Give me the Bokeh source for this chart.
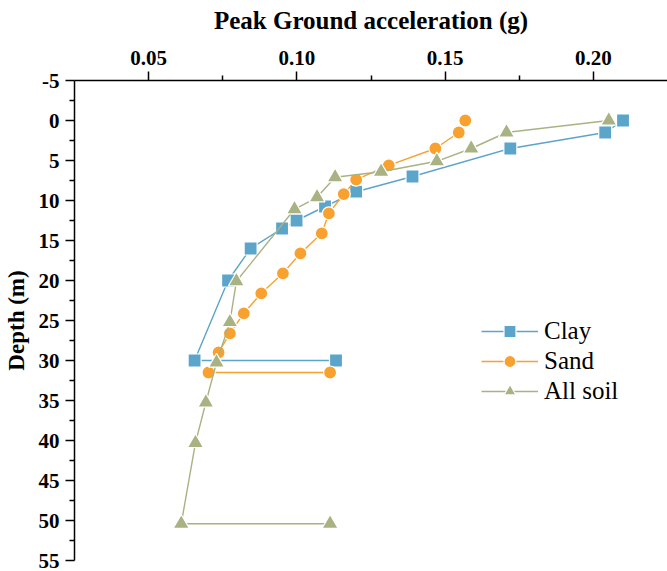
from bokeh.plotting import figure
from bokeh.models import Range1d, FixedTicker, Legend, LegendItem
from bokeh.embed import file_html
from bokeh.resources import INLINE

clay_pga = [0.210, 0.204, 0.172, 0.139, 0.120, 0.1095, 0.0999, 0.095, 0.0844, 0.0768, 0.0655, 0.1132]
clay_depth = [0.0, 1.5, 3.5, 7.0, 8.9, 10.75, 12.5, 13.5, 16.0, 20.0, 30.0, 30.0]

sand_pga = [0.1568, 0.1546, 0.1467, 0.131, 0.120, 0.1158, 0.1108, 0.1084, 0.1012, 0.0953, 0.088, 0.0821, 0.0774, 0.0736, 0.0702, 0.1112]
sand_depth = [0.0, 1.5, 3.5, 5.6, 7.4, 9.2, 11.6, 14.1, 16.6, 19.1, 21.6, 24.1, 26.6, 29.0, 31.5, 31.5]

all_pga = [0.2052, 0.1707, 0.1588, 0.1472, 0.1284, 0.1129, 0.1068, 0.0992, 0.0796, 0.0774, 0.0729, 0.0693, 0.0658, 0.061, 0.1112]
all_depth = [0.0, 1.5, 3.5, 5.1, 6.4, 7.1, 9.6, 11.1, 20.1, 25.2, 30.25, 35.25, 40.3, 50.4, 50.4]

x_ticks = [0.05, 0.10, 0.15, 0.20]
x_tick_labels = {0.05: "0.05", 0.10: "0.10", 0.15: "0.15", 0.20: "0.20"}
y_ticks = [-5, 0, 5, 10, 15, 20, 25, 30, 35, 40, 45, 50, 55]
y_tick_labels = {t: str(t) for t in y_ticks}

CLAY = "#5ba4ca"
SAND = "#f8a12f"
ALL = "#a8b283"
FONT = "Liberation Serif"

p = figure(width=667, height=571, output_backend="svg", toolbar_location=None,
           x_axis_location="above",
           x_range=Range1d(0.025, 0.225), y_range=Range1d(55, -5),
           min_border_left=73, min_border_top=80, min_border_right=0, min_border_bottom=11)
p.outline_line_color = None
p.grid.visible = False
p.background_fill_color = "white"

xa = p.xaxis[0]
xa.ticker = FixedTicker(ticks=x_ticks, minor_ticks=[0.075, 0.125, 0.175])
xa.major_label_overrides = x_tick_labels
xa.axis_label = "Peak Ground acceleration (g)"
ya = p.yaxis[0]
ya.ticker = FixedTicker(ticks=y_ticks, minor_ticks=[-2.5 + 5 * i for i in range(12)])
ya.major_label_overrides = y_tick_labels
ya.axis_label = "Depth (m)"

for ax in (xa, ya):
    ax.axis_line_width = 1.5
    ax.axis_line_color = "black"
    ax.major_tick_line_width = 1.5
    ax.minor_tick_line_width = 1.5
    ax.major_tick_in = 0
    ax.major_tick_out = 9
    ax.minor_tick_in = 0
    ax.minor_tick_out = 5
    ax.major_label_text_font = FONT
    ax.major_label_text_font_style = "bold"
    ax.major_label_text_font_size = "21px"
    ax.major_label_text_color = "black"
    ax.axis_label_text_font = FONT
    ax.axis_label_text_font_style = "bold"
    ax.axis_label_text_color = "black"
xa.axis_label_text_font_size = "25px"
ya.axis_label_text_font_size = "23px"
xa.major_label_standoff = 7
xa.axis_label_standoff = 14
ya.major_label_standoff = 6
ya.axis_label_standoff = 7

def series(xs, ys, color, marker, size):
    l = p.line(xs, ys, line_color=color, line_width=1.4)
    s = p.scatter(xs, ys, marker=marker, size=size, fill_color=color, line_color="white", line_width=1.2)
    return [l, s]

r_clay = series(clay_pga, clay_depth, CLAY, "square", 13)
r_sand = series(sand_pga, sand_depth, SAND, "circle", 13)
r_all = series(all_pga, all_depth, ALL, "triangle", 16)

legend = Legend(items=[LegendItem(label="Clay", renderers=r_clay),
                       LegendItem(label="Sand", renderers=r_sand),
                       LegendItem(label="All soil", renderers=r_all)],
                location=(407, 154), glyph_width=57, glyph_height=30, spacing=0,
                label_standoff=6, padding=0, margin=0, label_height=30,
                border_line_color=None, background_fill_alpha=0,
                label_text_font=FONT, label_text_font_size="25px", label_text_color="black")
p.add_layout(legend, "center")

open("out.html", "w").write(file_html(p, INLINE))
